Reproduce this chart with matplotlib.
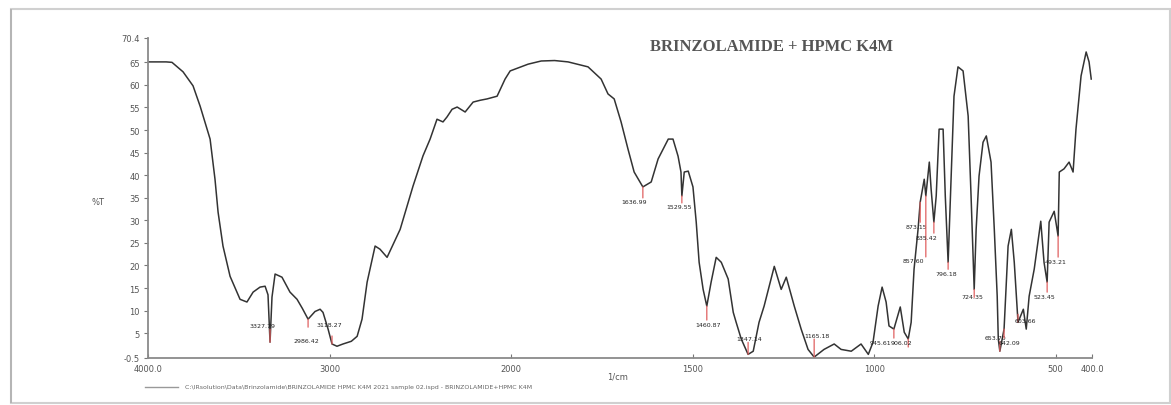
import numpy as np
import matplotlib.pyplot as plt
from matplotlib.patches import Rectangle

# FTIR spectrum, %T vs wavenumber (1/cm)
wavenumber = [
    4000, 3950, 3900, 3868, 3807, 3752, 3713, 3658, 3631, 3614, 3587, 3548,
    3493, 3455, 3421, 3383, 3355, 3339, 3327.79, 3317, 3300, 3262, 3218, 3179,
    3150, 3118.27, 3080, 3052, 3036, 3008, 2986.42, 2959, 2926, 2880, 2848,
    2821, 2793, 2749, 2722, 2683, 2628, 2611, 2573, 2540, 2485, 2446, 2408,
    2375, 2353, 2325, 2297, 2253, 2209, 2170, 2132, 2077, 2033, 2005, 1953,
    1917, 1880, 1843, 1788, 1752, 1733, 1716, 1697, 1678, 1661, 1636.99, 1614,
    1595, 1567, 1554, 1540, 1532, 1529.55, 1523, 1512, 1499, 1490, 1482, 1471,
    1460.87, 1449, 1435, 1421, 1402, 1388, 1380, 1366, 1347.14, 1333, 1317,
    1303, 1275, 1256, 1242, 1220, 1201, 1182, 1165.18, 1138, 1110, 1091, 1063,
    1036, 1016, 1003, 989, 978, 967, 959, 945.61, 928, 917, 906.02, 898, 890,
    879, 873.15, 862, 857.60, 848, 843, 835.42, 829, 821, 810, 804, 796.18,
    788, 780, 769, 755, 741, 733, 724.35, 719, 711, 700, 691, 678, 669, 661,
    658, 653.70, 642.09, 631, 622, 614, 603.66, 589, 581, 573, 559, 541, 532,
    523.45, 518, 504, 493.21, 490, 477, 463, 452, 444, 430, 416, 408, 402,
]
transmittance = [
    65.1, 65.1, 65.1, 65.0, 62.9, 59.8, 55.3, 48.0, 39.1, 31.8, 24.3, 17.6,
    12.5, 11.9, 14.1, 15.2, 15.4, 13.5, 3.0, 13.0, 18.1, 17.4, 14.1, 12.5,
    10.5, 8.1, 9.8, 10.3, 9.6, 5.9, 2.6, 2.1, 2.6, 3.2, 4.3,
    8.1, 16.3, 24.3, 23.6, 21.8, 26.5, 28.0, 33.1, 37.6, 44.3, 48.0, 52.4,
    51.8, 52.9, 54.6, 55.1, 54.0, 56.2, 56.6, 56.9, 57.5, 61.3, 63.1, 64.6,
    65.3, 65.4, 65.1, 64.0, 61.3, 58.0, 56.9, 51.8, 45.8, 40.7, 37.4, 38.5,
    43.6, 48.0, 48.0, 44.2, 40.7, 35.4, 40.7, 40.9, 37.4, 29.6, 20.7, 14.7,
    11.0, 16.3, 21.8, 20.7, 17.0, 9.6, 7.4, 3.7, 0.3, 1.0, 7.4,
    11.0, 19.8, 14.7, 17.4, 11.0, 5.9, 1.4, -0.3, 1.4, 2.6, 1.4, 1.0,
    2.6, 0.3, 3.0, 11.0, 15.2, 11.9, 6.6, 5.9, 10.8, 5.2, 3.7, 7.4, 19.2,
    28.0, 34.0, 39.1, 35.4, 42.9, 36.9, 29.6, 35.4, 50.2, 50.2, 35.4, 20.7,
    39.1, 57.5, 64.0, 63.1, 53.1, 35.4, 14.7, 28.0, 39.8, 47.3, 48.7, 42.9, 28.0, 13.2,
    3.7, 1.0, 5.9, 24.3, 28.0, 20.7, 7.4, 10.3, 5.9, 13.2, 19.2, 29.8, 20.7,
    16.3, 29.6, 32.0, 26.5, 40.7, 41.4, 42.9, 40.7, 50.2, 62.0, 67.3, 65.1, 61.3,
]

# picked peaks and where their labels sit (pixel offsets from the peak)
peak_wn = [3327.79, 3118.27, 2986.42, 1636.99, 1529.55, 1460.87, 1347.14,
           1165.18, 945.61, 906.02, 873.15, 857.60, 835.42, 796.18, 724.35,
           653.70, 642.09, 603.66, 523.45, 493.21]
label_offset = [(-8, 17), (21, -5), (-26, 3), (-9, -15), (-3, -11), (1, -18),
                (1, 16), (3, 22), (-13, -13), (-7, -3), (-4, -24), (-12, -65),
                (-7, -15), (-2, -11), (-2, -7), (-4, 14), (5, -13), (7, 2),
                (-3, -14), (-2, -25)]

x_ticks = [4000, 3000, 2000, 1500, 1000, 500, 400]
x_tick_labels = ['4000.0', '3000', '2000', '1500', '1000', '500', '400.0']
y_ticks = [-0.5, 5, 10, 15, 20, 25, 30, 35, 40, 45, 50, 55, 60, 65, 70.4]
y_tick_labels = ['-0.5', '5', '10', '15', '20', '25', '30', '35', '40', '45',
                 '50', '55', '60', '65', '70.4']

title = 'BRINZOLAMIDE + HPMC K4M'
file_name = ('C:\\IRsolution\\Data\\Brinzolamide\\BRINZOLAMIDE HPMC K4M 2021 sample 02.ispd'
             ' - BRINZOLAMIDE+HPMC K4M')


# wavenumber axis is expanded 2x below 2000 1/cm
def fwd(w):
    w = np.asarray(w, dtype=float)
    return np.where(w >= 2000, w, 2 * w - 2000)


def inv(u):
    u = np.asarray(u, dtype=float)
    return np.where(u >= 2000, u, (u + 2000) / 2)


fig = plt.figure(figsize=(11.71, 4.06), dpi=100)
fig.patches.append(Rectangle((0.009, 0.005), 0.99, 0.97, transform=fig.transFigure,
                             fill=False, edgecolor='#d0d0d0', lw=1.5))
fig.patches.append(Rectangle((0.0085, 0.005), 0.0015, 0.97, transform=fig.transFigure,
                             facecolor='#b5b5b5', edgecolor='none'))

ax = fig.add_axes([0.1264, 0.1158, 0.8061, 0.7882])
ax.set_xscale('function', functions=(fwd, inv))
ax.plot(wavenumber, transmittance, color='#333333', lw=1.1)

wn_arr = np.array(wavenumber)
t_arr = np.array(transmittance)
peak_t = np.interp(peak_wn, wn_arr[::-1], t_arr[::-1])
for w, t, (dx, dy) in zip(peak_wn, peak_t, label_offset):
    # short red tick straight from the peak toward its label
    tick_len = dy - 4 if dy > 0 else dy + 4
    if abs(tick_len) < 6:
        tick_len = 8 if dy > 0 else -8
    ax.annotate('', xy=(w, t), xytext=(0, tick_len), textcoords='offset pixels',
                arrowprops=dict(arrowstyle='-', color='#e06060', lw=0.9,
                                shrinkA=0, shrinkB=0))
    ax.annotate(f'{w:.2f}', xy=(w, t), xytext=(dx, dy), textcoords='offset pixels',
                ha='center', va='center', fontsize=4.5, color='#222222')

ax.set_xlim(4000, 400)
ax.set_ylim(-0.5, 70.4)
ax.set_xticks(x_ticks)
ax.set_xticklabels(x_tick_labels)
ax.set_yticks(y_ticks)
ax.set_yticklabels(y_tick_labels)
ax.xaxis.set_minor_locator(plt.NullLocator())
ax.tick_params(axis='x', direction='in', length=3, labelsize=6, labelcolor='#555555',
               color='#777777', pad=4)
ax.tick_params(axis='y', direction='out', length=3, labelsize=6, labelcolor='#555555',
               color='#777777', pad=3)
for pos in ['top', 'right']:
    ax.spines[pos].set_visible(False)
for pos in ['left', 'bottom']:
    ax.spines[pos].set_color('#8a8a8a')
    ax.spines[pos].set_linewidth(1.3)

fig.text(0.084, 0.50, '%T', fontsize=6, color='#555555', ha='center', va='center')
fig.text(0.527, 0.071, '1/cm', fontsize=6, color='#555555', ha='center', va='center')
fig.text(0.659, 0.884, title, fontsize=12, fontweight='bold', family='Liberation Serif',
         color='#555555', ha='center', va='center')

fig.lines.append(plt.Line2D([0.124, 0.152], [0.044, 0.044], transform=fig.transFigure,
                            color='#999999', lw=1.0))
fig.text(0.158, 0.046, file_name, fontsize=4.5, color='#666666', ha='left', va='center')

fig.savefig('out.png', dpi=100)
